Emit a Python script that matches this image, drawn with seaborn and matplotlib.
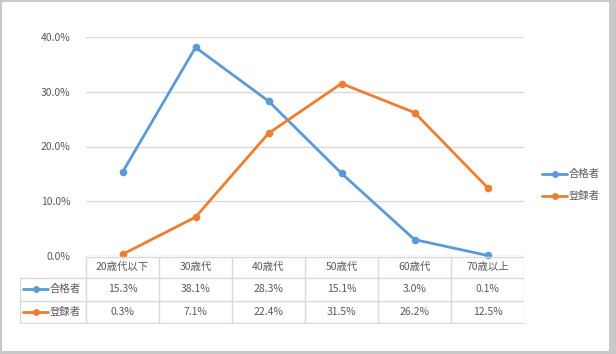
import matplotlib
matplotlib.use("Agg")
import matplotlib.pyplot as plt
import seaborn as sns
import pandas as pd
from matplotlib.patches import Rectangle
from matplotlib.lines import Line2D

categories = ["20歳代以下", "30歳代", "40歳代", "50歳代", "60歳代", "70歳以上"]
series_names = ["合格者", "登録者"]
passed = [15.3, 38.1, 28.3, 15.1, 3.0, 0.1]
registered = [0.3, 7.1, 22.4, 31.5, 26.2, 12.5]
y_ticks = [0.0, 10.0, 20.0, 30.0, 40.0]
colors = ["#5B9BD5", "#ED7D31"]

sns.set_theme(style="white")
plt.rcParams["font.family"] = ["Noto Sans CJK JP", "DejaVu Sans"]

W, H = 616, 354
fig = plt.figure(figsize=(W / 100, H / 100), dpi=100)
fig.patch.set_facecolor("#C9C9C9")
fig.add_artist(Rectangle((2 / W, 3 / H), 607 / W, 349 / H, transform=fig.transFigure,
                         facecolor="white", edgecolor="none", zorder=0))

def fbox(x0, y0, x1, y1):
    return [x0 / W, 1 - y1 / H, (x1 - x0) / W, (y1 - y0) / H]

TXT = "#595959"
GRID = "#D9D9D9"

# main line chart
ax = fig.add_axes(fbox(86, 37, 524, 256))
ax.set_facecolor("none")
df = pd.DataFrame({
    "cat": list(range(len(categories))) * 2,
    "value": passed + registered,
    "series": [series_names[0]] * len(passed) + [series_names[1]] * len(registered),
})
sns.lineplot(data=df, x="cat", y="value", hue="series", palette=colors, marker="o",
             markersize=5.5, markeredgewidth=0, linewidth=2.0, ax=ax, legend=False,
             clip_on=False)
ax.set_xlim(-0.5, len(categories) - 0.5)
ax.set_ylim(0, 40)
ax.set_yticks(y_ticks)
ax.set_yticklabels([f"{t:.1f}%" for t in y_ticks], color=TXT, fontsize=7.5)
ax.tick_params(axis="y", length=0, pad=11)
ax.set_xticks([])
ax.set_xlabel("")
ax.set_ylabel("")
for t in y_ticks:
    ax.axhline(t, color=GRID, linewidth=1.0, zorder=0)
for s in ax.spines.values():
    s.set_visible(False)

# data table
tx = fig.add_axes(fbox(20, 256, 524, 324))
tx.set_xlim(20, 524)
tx.set_ylim(324, 256)
tx.axis("off")
tx.set_facecolor("none")
x_left, x_col0, x_right = 20, 86, 524
row_y = [256.5, 278, 300.5, 323]
colw = (x_right - x_col0) / len(categories)
lw = 1.0
tx.plot([x_col0, x_right], [row_y[0]] * 2, color=GRID, lw=lw)
for yy in row_y[1:]:
    tx.plot([x_left, x_right], [yy] * 2, color=GRID, lw=lw)
tx.plot([x_left, x_left], [row_y[1], row_y[3]], color=GRID, lw=lw)
for i in range(len(categories) + 1):
    xx = x_col0 + i * colw
    tx.plot([xx, xx], [row_y[0], row_y[3]], color=GRID, lw=lw)
for i, c in enumerate(categories):
    xc = x_col0 + (i + 0.5) * colw
    tx.text(xc, (row_y[0] + row_y[1]) / 2, c, ha="center", va="center", fontsize=7.5, color=TXT)
    tx.text(xc, (row_y[1] + row_y[2]) / 2, f"{passed[i]:.1f}%", ha="center", va="center", fontsize=7.5, color=TXT)
    tx.text(xc, (row_y[2] + row_y[3]) / 2, f"{registered[i]:.1f}%", ha="center", va="center", fontsize=7.5, color=TXT)
for r, (name, col) in enumerate(zip(series_names, colors)):
    yc = (row_y[r + 1] + row_y[r + 2]) / 2
    tx.add_line(Line2D([23, 48], [yc, yc], color=col, lw=2.0, marker="o",
                       markevery=[1], markersize=5, markeredgewidth=0))
    tx.lines[-1].set_data([23, 35.5, 48], [yc, yc, yc])
    tx.text(50, yc, name, ha="left", va="center", fontsize=7.5, color=TXT)

# legend at right
lx = fig.add_axes(fbox(530, 150, 609, 220))
lx.set_xlim(530, 609)
lx.set_ylim(220, 150)
lx.axis("off")
for name, col, yc in zip(series_names, colors, [174, 196]):
    lx.add_line(Line2D([542, 554.5, 567], [yc, yc, yc], color=col, lw=2.0, marker="o",
                       markevery=[1], markersize=5, markeredgewidth=0))
    lx.text(569, yc, name, ha="left", va="center", fontsize=7.5, color=TXT)

fig.savefig("out.png", dpi=100, facecolor=fig.get_facecolor())
